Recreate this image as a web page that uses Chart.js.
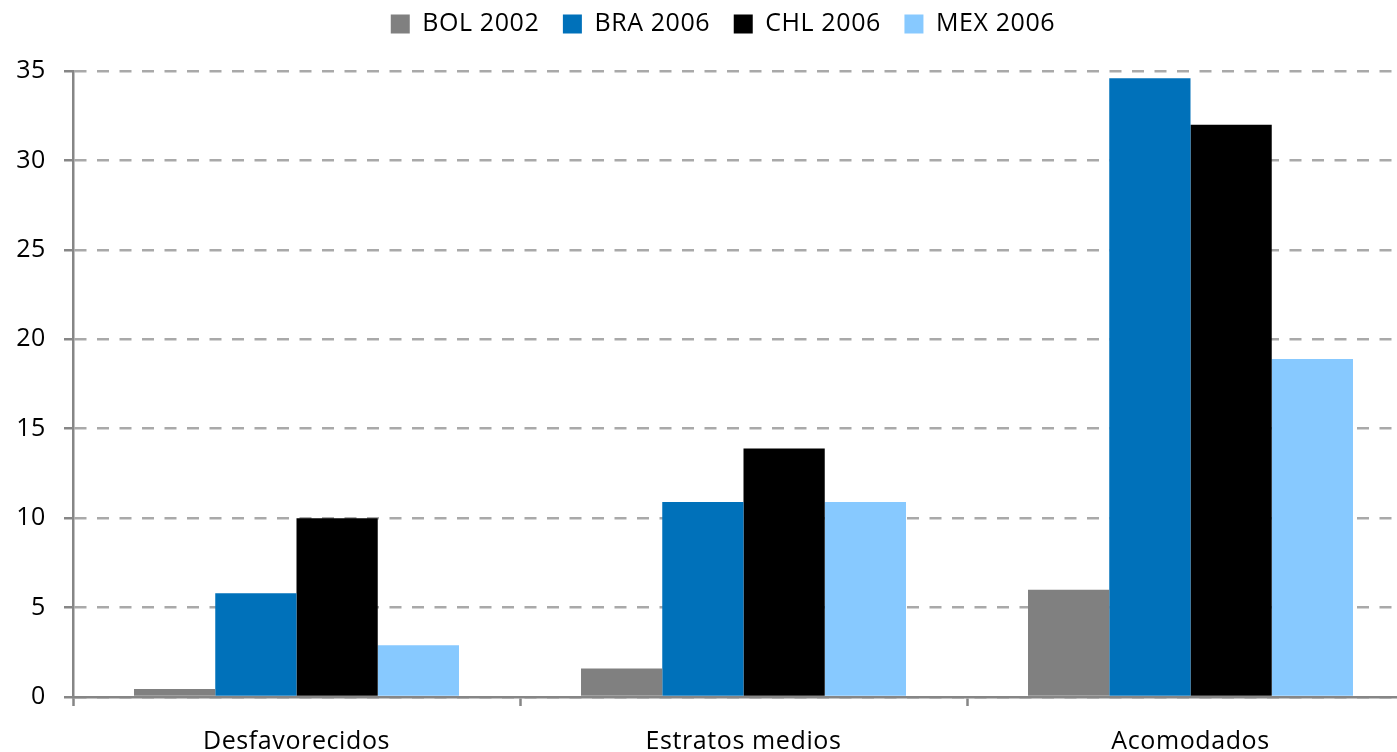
<!DOCTYPE html>
<html>
<head>
<meta charset="utf-8">
<script src="https://cdn.jsdelivr.net/npm/chart.js@4"></script>
<style>
html,body{margin:0;padding:0;background:#fff;overflow:hidden;}
#wrap{width:1444px;height:752px;}
</style>
</head>
<body>
<div id="wrap"><canvas id="c" width="1444" height="752"></canvas></div>
<script>
const categories = ["Desfavorecidos", "Estratos medios", "Acomodados"];
const seriesNames = ["BOL 2002", "BRA 2006", "CHL 2006", "MEX 2006"];
const bol2002 = [0.45, 1.6, 6.0];
const bra2006 = [5.8, 10.9, 34.6];
const chl2006 = [10.0, 13.9, 32.0];
const mex2006 = [2.9, 10.9, 18.9];
const yTicks = [0, 5, 10, 15, 20, 25, 30, 35];
const colors = ["#808080", "#0071BA", "#000000", "#87C9FF"];

const FONT = "'Open Sans', sans-serif";
const FS = 25;
const values = [bol2002, bra2006, chl2006, mex2006];

const spacing = {
  id: 'letterSpacing',
  beforeUpdate(c) { c.ctx.letterSpacing = '0.6px'; },
  beforeLayout(c) { c.ctx.letterSpacing = '0.6px'; },
  beforeDraw(c) { c.ctx.letterSpacing = '0.6px'; },
  afterLayout(c) {
    if (c.legend) { c.legend.left += 16; c.legend.right += 16; }
  }
};

new Chart(document.getElementById('c'), {
  type: 'bar',
  plugins: [spacing],
  data: {
    labels: categories,
    datasets: seriesNames.map((n, i) => ({
      label: n,
      data: values[i],
      backgroundColor: colors[i],
      borderWidth: 0,
      categoryPercentage: 0.727,
      barPercentage: 1.0
    }))
  },
  options: {
    responsive: false,
    animation: false,
    layout: { padding: { top: -12, right: 30, left: 0, bottom: 0 } },
    plugins: {
      tooltip: { enabled: false },
      legend: {
        position: 'top',
        labels: {
          boxWidth: 19, boxHeight: 19,
          padding: 23.5,
          color: '#000',
          font: { family: FONT, size: FS }
        }
      },
      title: {
        display: true,
        text: '',
        weight: 500,
        position: 'top',
        font: { size: 1, lineHeight: 1 },
        padding: { top: 23.5, bottom: 0 }
      }
    },
    scales: {
      x: {
        grid: {
          offset: true,
          drawOnChartArea: false,
          drawTicks: true,
          tickLength: 9,
          tickColor: '#868686',
          tickWidth: 2.5
        },
        border: { display: true, color: '#868686', width: 2.5 },
        ticks: { color: '#000', font: { family: FONT, size: FS }, padding: 21 },
        afterFit(s) { s.height = 55; }
      },
      y: {
        min: 0, max: 35,
        afterBuildTicks(s) { s.ticks = yTicks.map(v => ({ value: v })); },
        grid: {
          color: '#a9a9a9',
          lineWidth: 2.5,
          drawTicks: true,
          tickLength: 9,
          tickColor: '#868686',
          tickWidth: 2.5,
          tickBorderDash: []
        },
        border: { display: true, color: '#868686', width: 2.5, dash: [12, 10.5] },
        ticks: { color: '#000', font: { family: FONT, size: FS }, padding: 18 },
        afterFit(s) { s.width = 73; }
      }
    }
  }
});
</script>
</body>
</html>
